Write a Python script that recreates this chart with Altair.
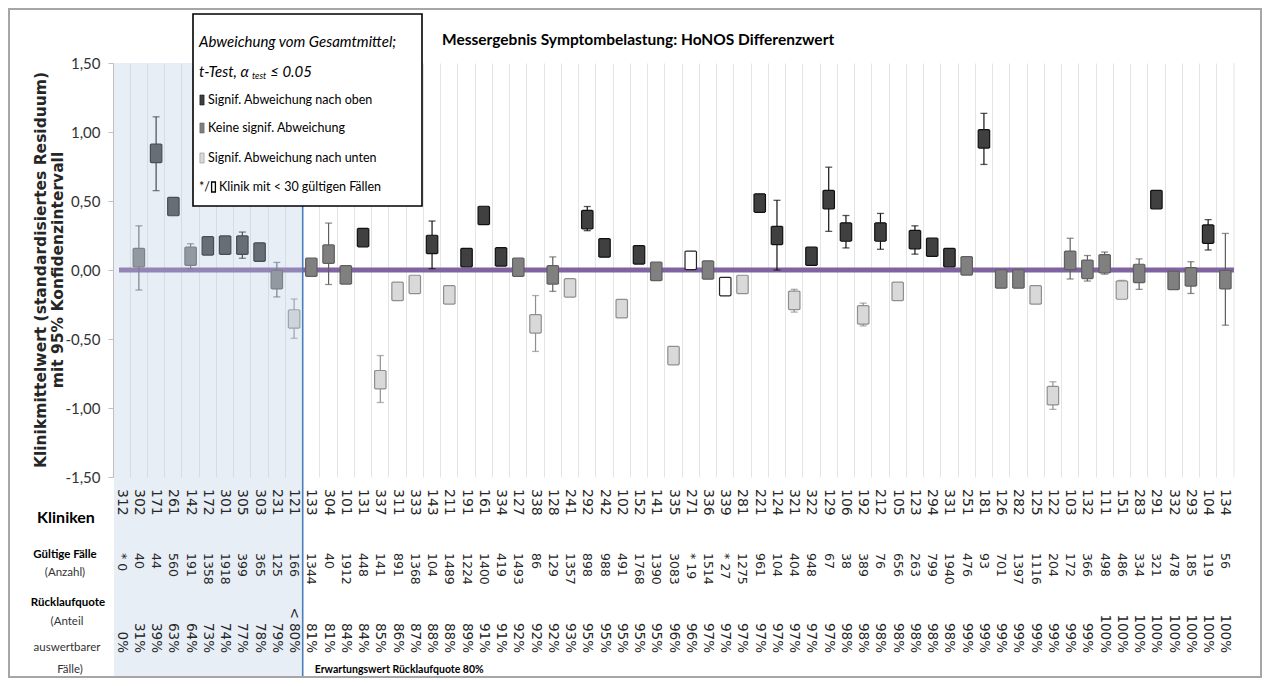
import altair as alt
import pandas as pd

NAN = float("nan")

# ---------------- data ----------------
clinics = ["312", "302", "171", "261", "142", "172", "301", "305", "303", "231", "121",
           "133", "304", "101", "131", "337", "311", "333", "143", "211", "191",
           "161", "334", "127", "338", "128", "241", "292", "242", "102", "152",
           "141", "335", "271", "336", "339", "281", "221", "124", "321", "322",
           "129", "106", "192", "212", "105", "123", "294", "331", "251", "181",
           "126", "282", "125", "122", "103", "132", "111", "151", "283", "291",
           "332", "293", "104", "134"]

cases = [0, 40, 44, 560, 191, 1358, 1918, 399, 365, 125, 166,
         1344, 40, 1912, 448, 141, 891, 1368, 104, 1489, 1224,
         1400, 419, 1493, 86, 129, 1357, 898, 988, 491, 1768,
         1390, 3083, 19, 1514, 27, 1275, 961, 104, 404, 948,
         67, 38, 389, 76, 656, 263, 799, 1940, 476, 93,
         701, 1397, 1116, 204, 172, 366, 498, 486, 334, 321,
         478, 185, 119, 56]

rates = ["0%", "31%", "39%", "63%", "64%", "73%", "74%", "77%", "78%", "79%", "< 80%",
         "81%", "81%", "84%", "84%", "85%", "86%", "87%", "88%", "88%", "89%",
         "91%", "91%", "92%", "92%", "92%", "93%", "95%", "95%", "95%", "95%",
         "95%", "96%", "96%", "97%", "97%", "97%", "97%", "97%", "97%", "97%",
         "97%", "98%", "98%", "98%", "98%", "98%", "98%", "98%", "99%", "99%",
         "99%", "99%", "99%", "99%", "99%", "99%", "100%", "100%", "100%", "100%",
         "100%", "100%", "100%", "100%"]

means = [NAN, 0.09, 0.845, 0.46, 0.10, 0.175, 0.18, 0.18, 0.13, -0.07, -0.355,
         0.02, 0.115, -0.035, 0.235, -0.795, -0.155, -0.105, 0.185, -0.18, 0.09,
         0.395, 0.095, 0.02, -0.39, -0.035, -0.13, 0.365, 0.16, -0.28, 0.11,
         -0.01, -0.62, 0.07, 0.0, -0.12, -0.105, 0.485, 0.25, -0.22, 0.10,
         0.51, 0.275, -0.325, 0.275, -0.155, 0.22, 0.165, 0.09, 0.03, 0.95,
         -0.065, -0.065, -0.18, -0.91, 0.07, 0.005, 0.045, -0.145, -0.025, 0.51,
         -0.075, -0.05, 0.26, -0.07]

ci_lo = [NAN, -0.145, 0.575, 0.42, 0.01, 0.14, 0.145, 0.085, 0.08, -0.195, -0.495,
         -0.02, -0.105, -0.075, 0.18, -0.96, -0.21, -0.145, 0.01, -0.225, 0.04,
         0.35, 0.05, -0.02, -0.59, -0.155, -0.17, 0.285, 0.11, -0.33, 0.06,
         -0.05, -0.65, NAN, -0.04, NAN, -0.15, 0.44, 0.0, -0.305, 0.05,
         0.28, 0.16, -0.405, 0.15, -0.205, 0.115, 0.12, 0.045, -0.01, 0.765,
         -0.105, -0.105, -0.225, -1.01, -0.065, -0.08, -0.03, -0.2, -0.14, 0.465,
         -0.125, -0.17, 0.145, -0.40]

ci_hi = [NAN, 0.32, 1.11, 0.50, 0.19, 0.21, 0.215, 0.275, 0.175, 0.055, -0.21,
         0.06, 0.34, 0.005, 0.29, -0.62, -0.10, -0.065, 0.355, -0.135, 0.14,
         0.44, 0.14, 0.06, -0.185, 0.095, -0.09, 0.46, 0.21, -0.23, 0.16,
         0.03, -0.59, NAN, 0.04, NAN, -0.06, 0.53, 0.505, -0.14, 0.15,
         0.745, 0.395, -0.24, 0.41, -0.11, 0.32, 0.21, 0.135, 0.07, 1.135,
         -0.025, -0.025, -0.115, -0.81, 0.23, 0.105, 0.13, -0.075, 0.08, 0.55,
         -0.035, 0.06, 0.365, 0.265]

cats = ["none", "none", "up", "up", "none", "up", "up", "up", "up", "none", "down",
        "none", "none", "none", "up", "down", "down", "down", "up", "down", "up",
        "up", "up", "none", "down", "none", "down", "up", "up", "down", "up",
        "none", "down", "small", "none", "small", "down", "up", "up", "down", "up",
        "up", "up", "down", "up", "down", "up", "up", "up", "none", "up",
        "none", "none", "down", "down", "none", "none", "none", "down", "none", "up",
        "none", "none", "up", "none"]

y_ticks = [-1.5, -1.0, -0.5, 0.0, 0.5, 1.0, 1.5]

title_text = "Messergebnis Symptombelastung: HoNOS Differenzwert"
y_title = ["Klinikmittelwert (standardisiertes Residuum)", "mit 95% Konfidenzintervall"]
legend_head = ["Abweichung vom Gesamtmittel;", "t-Test, α", "test", "≤ 0.05"]
legend_items = ["Signif. Abweichung nach oben", "Keine signif. Abweichung",
                "Signif. Abweichung nach unten"]
legend_small = ["*/", "Klinik mit < 30 gültigen Fällen"]
row_labels = ["Kliniken", "Gültige Fälle", "(Anzahl)", "Rücklaufquote", "(Anteil",
              "auswertbarer", "Fälle)"]
expect_text = "Erwartungswert Rücklaufquote 80%"

cat_domain = ["up", "none", "down", "small"]
fill_range = ["#404040", "#808080", "#d9d9d9", "#ffffff"]
ink_range = ["#111111", "#5f5f5f", "#8f8f8f", "#262626"]

# ---------------- layout ----------------
W, H = 1121, 414
PAD = {"left": 105, "top": 55, "right": 28, "bottom": 201}
STEP = W / len(clinics)
SPLIT_X = 11 * STEP
BOTTOM = 614

df = pd.DataFrame({"clinic": clinics, "n": cases, "rate": rates, "mean": means,
                   "lo": ci_lo, "hi": ci_hi, "cat": cats})

xenc = alt.X("clinic:N", sort=clinics,
             scale=alt.Scale(paddingInner=0, paddingOuter=0),
             axis=alt.Axis(grid=True, bandPosition=0, labels=False, ticks=False,
                           domain=False, title=None, gridColor="#e4e4e4", gridWidth=1))

yscale = alt.Scale(domain=[-1.5, 1.5], nice=False, zero=False)
yaxis = alt.Axis(values=y_ticks, grid=False, title=None,
                 labelExpr="replace(replace(format(datum.value, '.2f'), '.', ','), '\u2212', '-')",
                 domainColor="#bfbfbf", tickColor="#bfbfbf", tickSize=5, labelPadding=8,
                 labelFont="Lato", labelFontSize=15, labelColor="#333333")


def Y(field):
    return alt.Y(field, scale=yscale, axis=yaxis)


fill_scale = alt.Scale(domain=cat_domain, range=fill_range)
ink_scale = alt.Scale(domain=cat_domain, range=ink_range)

BOX = "M-0.5,-1L0.5,-1L0.62,-0.92L0.62,0.92L0.5,1L-0.5,1L-0.62,0.92L-0.62,-0.92Z"
SWATCH = "M-0.42,-1L0.42,-1L0.42,1L-0.42,1Z"
SWATCH2 = "M-0.38,-1L0.38,-1L0.38,1L-0.38,1Z"


def one(**cols):
    return alt.Chart(pd.DataFrame({k: [v] for k, v in cols.items()}))


def label(text, x, y, **kw):
    return one(t=text).mark_text(**kw).encode(x=alt.value(x), y=alt.value(y), text="t:N")


base = alt.Chart(df)

right_grid = one(a=1).mark_rule(color="#e4e4e4", strokeWidth=1).encode(
    x=alt.value(W), y=alt.value(0), y2=alt.value(H))

zero_line = one(z=0.0).mark_rule(color="#8064A2", strokeWidth=5).encode(
    y=Y("z:Q"), x=alt.value(6), x2=alt.value(W))

whisk = base.transform_filter("isValid(datum.lo) && isFinite(datum.lo)").mark_rule(strokeWidth=1.2).encode(
    x=xenc, y=Y("lo:Q"), y2="hi:Q",
    stroke=alt.Stroke("cat:N", scale=ink_scale, legend=None))

cap_lo = base.transform_filter("isValid(datum.lo) && isFinite(datum.lo)").mark_tick(size=7, thickness=1.3).encode(
    x=xenc, y=Y("lo:Q"), color=alt.Color("cat:N", scale=ink_scale, legend=None))
cap_hi = base.transform_filter("isValid(datum.hi) && isFinite(datum.hi)").mark_tick(size=7, thickness=1.3).encode(
    x=xenc, y=Y("hi:Q"), color=alt.Color("cat:N", scale=ink_scale, legend=None))

boxes = base.transform_filter("isValid(datum.mean) && isFinite(datum.mean)").mark_point(
    shape=BOX, size=340, filled=True, opacity=1, strokeWidth=1.2).encode(
    x=xenc, y=Y("mean:Q"),
    fill=alt.Fill("cat:N", scale=fill_scale, legend=None),
    stroke=alt.Stroke("cat:N", scale=ink_scale, legend=None))

shade = one(a=1).mark_rect(color="#b8cce4", opacity=0.33).encode(
    x=alt.value(1), x2=alt.value(SPLIT_X), y=alt.value(0), y2=alt.value(BOTTOM))

split_line = one(a=1).mark_rule(color="#4a7ebb", strokeWidth=1.6).encode(
    x=alt.value(SPLIT_X), y=alt.value(0), y2=alt.value(BOTTOM))

# legend box
leg_box = one(a=1).mark_rect(fill="white", stroke="black", strokeWidth=1.6).encode(
    x=alt.value(80), x2=alt.value(309), y=alt.value(-49), y2=alt.value(143))

LF = "Lato"
leg_layers = [
    label(legend_head[0], 86, -21, font=LF, fontStyle="italic", fontSize=15, align="left", baseline="middle", color="black"),
    label(legend_head[1], 86, 9, font=LF, fontStyle="italic", fontSize=15, align="left", baseline="middle", color="black"),
    label(legend_head[2], 139, 13, font=LF, fontStyle="italic", fontSize=9, align="left", baseline="middle", color="black"),
    label(legend_head[3], 199, 9, font=LF, fontStyle="italic", fontSize=15, align="right", baseline="middle", color="black"),
]
row_y = [37, 65, 95]
for i, txt in enumerate(legend_items):
    leg_layers.append(one(a=1).mark_point(shape=SWATCH, size=100, filled=True, opacity=1,
                                          fill=fill_range[i], stroke=ink_range[i], strokeWidth=0.6).encode(
        x=alt.value(89), y=alt.value(row_y[i])))
    leg_layers.append(label(txt, 95, row_y[i], font=LF, fontSize=12.5, align="left", baseline="middle", color="black"))
leg_layers.append(label(legend_small[0], 86, 124, font=LF, fontSize=12.5, align="left", baseline="middle", color="black"))
leg_layers.append(one(a=1).mark_point(shape=SWATCH2, size=100, filled=True, opacity=1,
                                      fill="white", stroke="black", strokeWidth=1.3).encode(
    x=alt.value(100.5), y=alt.value(124)))
leg_layers.append(label(legend_small[1], 106, 124, font=LF, fontSize=12.5, align="left", baseline="middle", color="black"))

title = label(title_text, 329, -23, font=LF, fontWeight="bold", fontSize=15.5, align="left", baseline="middle", color="black")
ytitle1 = label(y_title[0], -72, H / 2, font="DejaVu Sans", fontWeight="bold", fontSize=15.5, angle=270,
                align="center", baseline="middle", color="#262626")
ytitle2 = label(y_title[1], -55, H / 2, font="DejaVu Sans", fontWeight="bold", fontSize=15.5, angle=270,
                align="center", baseline="middle", color="#262626")

# rows of text below the plot
RF = "DejaVu Sans"
row_clinic = base.mark_text(angle=90, align="left", baseline="middle", font=RF, fontSize=14,
                            color="#262626").encode(x=xenc, y=alt.value(426), text="clinic:N")
row_n = base.transform_calculate(
    nlab="datum.n < 30 ? '* ' + datum.n : '' + datum.n").mark_text(
    angle=90, align="left", baseline="middle", font=RF, fontSize=12.5, color="#262626").encode(
    x=xenc, y=alt.value(490), text="nlab:N")
row_rate = base.mark_text(angle=90, align="right", baseline="middle", font=RF, fontSize=13.5,
                          color="#262626").encode(x=xenc, y=alt.value(590), text="rate:N")

left_labels = [
    label(row_labels[0], -47, 455, font=LF, fontWeight="bold", fontSize=16, align="center", baseline="middle", color="black"),
    label(row_labels[1], -48, 492, font=LF, fontWeight="bold", fontSize=11.5, align="center", baseline="middle", color="black"),
    label(row_labels[2], -48, 510, font=LF, fontSize=11.5, align="center", baseline="middle", color="#333333"),
    label(row_labels[3], -45, 540, font=LF, fontWeight="bold", fontSize=11.5, align="center", baseline="middle", color="black"),
    label(row_labels[4], -46, 559, font=LF, fontSize=11.5, align="center", baseline="middle", color="#333333"),
    label(row_labels[5], -46, 585, font=LF, fontSize=11.5, align="center", baseline="middle", color="#333333"),
    label(row_labels[6], -43, 607, font=LF, fontSize=11.5, align="center", baseline="middle", color="#333333"),
]
expect = label(expect_text, SPLIT_X + 12, 607, font=LF, fontWeight="bold", fontSize=10.5,
               align="left", baseline="middle", color="black")

frame = one(a=1).mark_rect(fillOpacity=0, stroke="#a6a6a6", strokeWidth=2).encode(
    x=alt.value(-104), x2=alt.value(1148), y=alt.value(-54), y2=alt.value(614))

chart = alt.layer(
    right_grid, zero_line, whisk, cap_lo, cap_hi, boxes, shade, split_line,
    leg_box, *leg_layers, title, ytitle1, ytitle2,
    row_clinic, row_n, row_rate, *left_labels, expect, frame
).properties(
    width=W, height=H, padding=PAD,
    autosize=alt.AutoSizeParams(type="none"),
    background="white",
).configure_view(stroke=None)

chart.save("out.html", embed_options={"renderer": "svg", "actions": False})
